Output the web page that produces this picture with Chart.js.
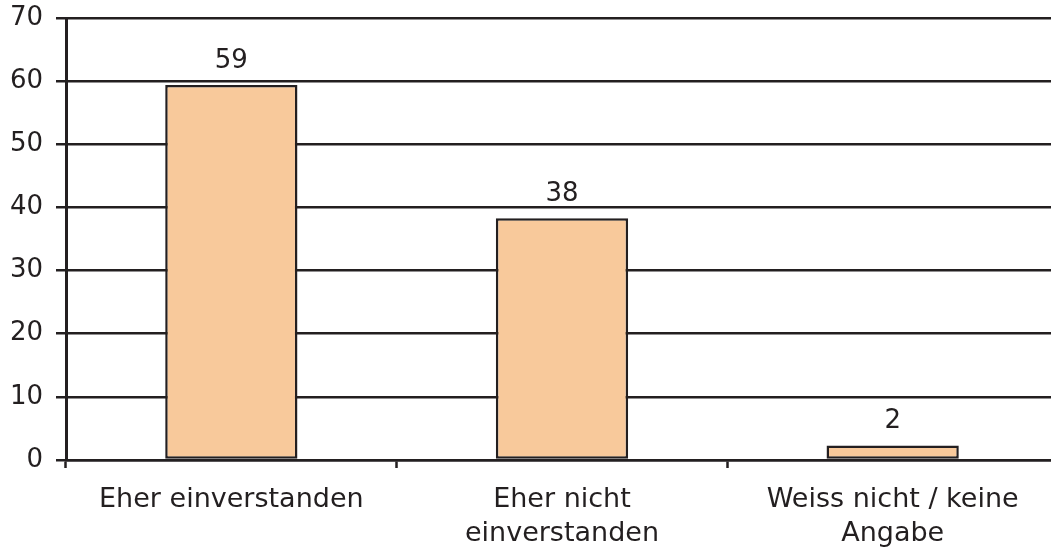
<!DOCTYPE html>
<html lang="de">

<head>
    <meta charset="UTF-8">
    <title>Umfrage</title>
    <style>
        body {
            margin: 0;
            padding: 0;
            background: #ffffff;
            overflow: hidden;
        }

        .wrap {
            width: 1058px;
            height: 551px;
        }
    </style>
</head>

<body>
    <div class="wrap">
        <canvas id="chart"></canvas>
    </div>

    <script src="https://cdn.jsdelivr.net/npm/chart.js"></script>
    <script>
        // Categories and values (percent)
        const categories = [
            "Eher einverstanden",
            ["Eher nicht", "einverstanden"],
            ["Weiss nicht / keine", "Angabe"]
        ];
        const values = [59.4, 38.3, 2.3];
        const valueLabels = ["59", "38", "2"];
        const yTicks = [0, 10, 20, 30, 40, 50, 60, 70];

        const ink = "#231f20";
        const fontFamily = "'DejaVu Sans', Verdana, sans-serif";

        // Draw the numbers above the bars
        const barLabels = {
            id: "barLabels",
            afterDatasetsDraw(chart) {
                const ctx = chart.ctx;
                const meta = chart.getDatasetMeta(0);
                ctx.save();
                ctx.font = "26px " + fontFamily;
                ctx.fillStyle = ink;
                ctx.textAlign = "center";
                ctx.textBaseline = "alphabetic";
                meta.data.forEach((bar, i) => {
                    ctx.fillText(valueLabels[i], bar.x, bar.y - 17);
                });
                ctx.restore();
            }
        };

        new Chart(document.getElementById("chart"), {
            type: "bar",
            data: {
                labels: categories,
                datasets: [{
                    data: values,
                    backgroundColor: "#f8c99b",
                    borderColor: ink,
                    borderWidth: 2.5,
                    borderSkipped: false,
                    categoryPercentage: 1,
                    barPercentage: 0.4
                }]
            },
            options: {
                responsive: true,
                maintainAspectRatio: false,
                animation: false,
                layout: {
                    padding: { top: 18, left: 0, right: 0, bottom: 0 }
                },
                plugins: {
                    legend: { display: false },
                    tooltip: { enabled: false }
                },
                scales: {
                    x: {
                        offset: true,
                        afterFit(scale) {
                            scale.height = 91;
                            scale.paddingLeft = 0;
                            scale.paddingRight = 0;
                        },
                        grid: {
                            offset: true,
                            drawOnChartArea: false,
                            drawTicks: true,
                            tickLength: 8,
                            tickColor: ink,
                            tickWidth: 2.5
                        },
                        border: { display: true, color: ink, width: 2.5 },
                        ticks: {
                            color: ink,
                            padding: 15,
                            maxRotation: 0,
                            autoSkip: false,
                            font: { family: fontFamily, size: 27, lineHeight: 1.26 }
                        }
                    },
                    y: {
                        min: 0,
                        max: 70,
                        afterBuildTicks(scale) {
                            scale.ticks = yTicks.map(v => ({ value: v }));
                        },
                        afterFit(scale) {
                            scale.width = 66;
                            scale.paddingTop = 0;
                            scale.paddingBottom = 0;
                        },
                        grid: {
                            color: ink,
                            lineWidth: 2.5,
                            drawTicks: true,
                            tickLength: 10,
                            tickColor: ink,
                            tickWidth: 2.5
                        },
                        border: { display: true, color: ink, width: 3 },
                        ticks: {
                            color: ink,
                            padding: 13,
                            font: { family: fontFamily, size: 26 }
                        }
                    }
                }
            },
            plugins: [barLabels]
        });
    </script>
</body>

</html>
